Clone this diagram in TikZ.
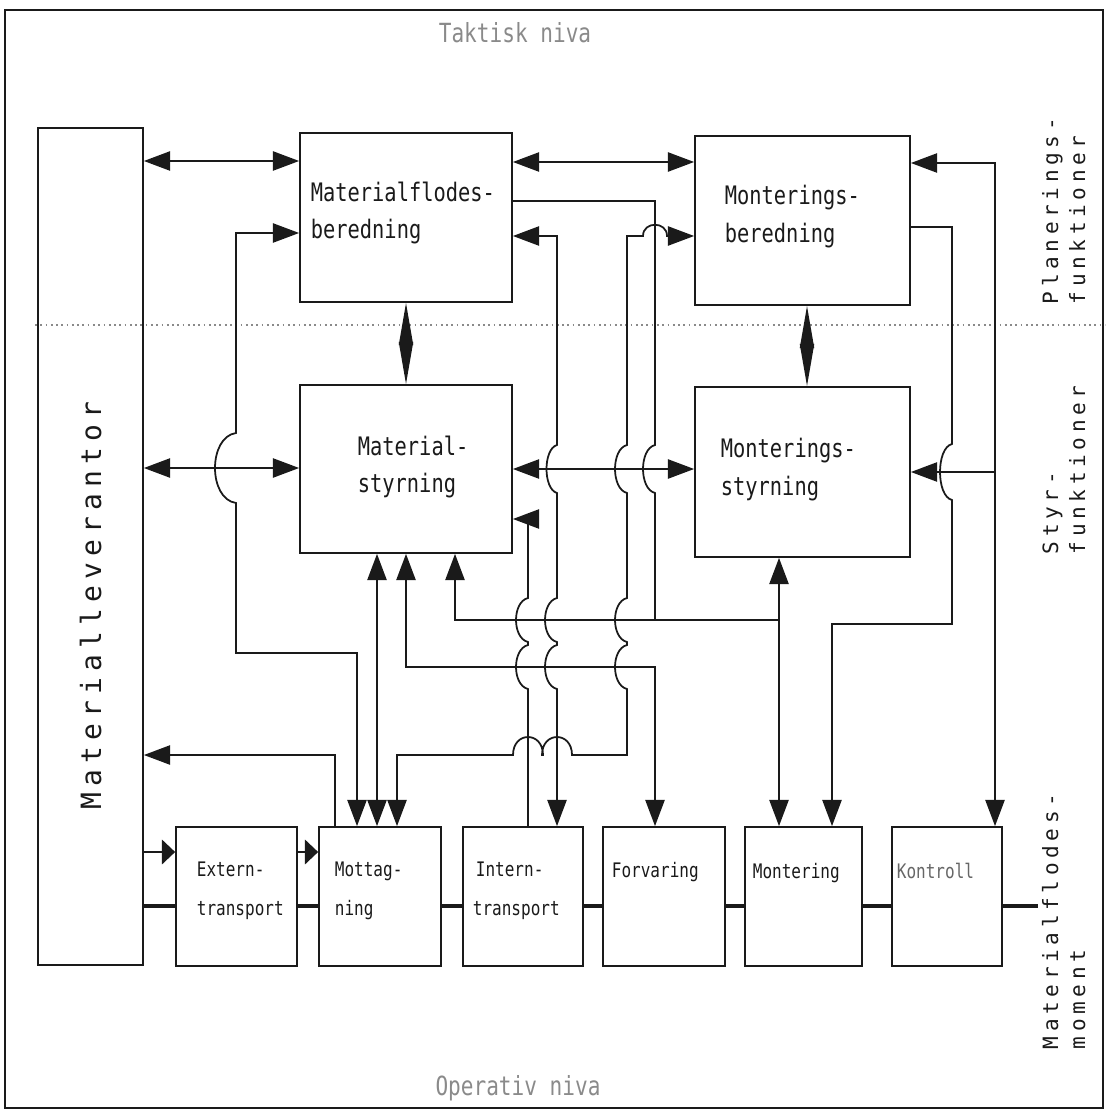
\documentclass[tikz,border=0pt]{standalone}
\usepackage{fontspec}
\usepackage{xcolor}
\usetikzlibrary{arrows.meta}
\newfontfamily\plotfont[FakeStretch=0.8]{DejaVu Sans Mono}
\newfontfamily\widefont[LetterSpace=22]{DejaVu Sans Mono}
\definecolor{ink}  {HTML}{1A1A1A}
\definecolor{faded}{HTML}{8A8A8A}
\newcommand{\pxu}{0.02cm}
% line hops: vertical line running down / up, horizontal line running left
\newcommand{\hopdn}[4]{-- (#1,#2-#3) .. controls (#1-#4,#2-#3+4) and (#1-#4,#2+#3-4) .. (#1,#2+#3)}
\newcommand{\hopup}[4]{-- (#1,#2+#3) .. controls (#1-#4,#2+#3-4) and (#1-#4,#2-#3+4) .. (#1,#2-#3)}
\newcommand{\hoplt}[4]{-- (#1+#3,#2) .. controls (#1+#3,#2-#4) and (#1-#3,#2-#4) .. (#1-#3,#2)}

\begin{document}
\begin{tikzpicture}[x=0.02cm,y=-0.02cm,line width=1pt,color=ink,
    >={Triangle[length=15pt,width=11pt]},
    box/.style={draw,rectangle,inner sep=0pt},
    lbl/.style={font=\plotfont\fontsize{14.5}{16}\selectfont,anchor=base west,inner sep=0pt},
    oplbl/.style={font=\plotfont\fontsize{11.4}{13}\selectfont,anchor=base west,inner sep=0pt},
    sidelbl/.style={font=\widefont\fontsize{12}{14}\selectfont,rotate=90,anchor=base west,inner sep=0pt},
    dia/.style={{Triangle[length=24pt,width=8pt]}-{Triangle[length=24pt,width=8pt]}},
    sarr/.style={-{Triangle[length=7.5pt,width=14pt]}},
    flow/.style={line width=2.8pt}]
  \useasboundingbox (0,0) rectangle (1105,1111);
  \draw (5,10) rectangle (1103,1108);
  \draw[faded,dotted,line width=1pt] (35,325) -- (1105,325);

  % boxes
  \node[box,minimum width=105*\pxu,minimum height=837*\pxu] (lev) at (90.5,546.5) {};
  \node[box,minimum width=212*\pxu,minimum height=169*\pxu] (mfb) at (406,217.5) {};
  \node[box,minimum width=215*\pxu,minimum height=169*\pxu] (mb) at (802.5,220.5) {};
  \node[box,minimum width=212*\pxu,minimum height=168*\pxu] (mas) at (406,469) {};
  \node[box,minimum width=215*\pxu,minimum height=170*\pxu] (ms) at (802.5,472) {};
  \foreach \nm/\xa/\xb in {ext/176/297,mot/319/441,int/463/583,forv/603/725,mont/745/862,kon/892/1002} {
    \node[box,minimum width={(\xb-\xa)*\pxu},minimum height=139*\pxu] (\nm) at ({(\xa+\xb)/2},896.5) {};
  }

  % texts
  \node[lbl] (mfbA) at (310,202) {Materialflodes-};
  \node[lbl] (mfbB) at (310,239) {beredning};
  \node[lbl] (mbA) at (724,205) {Monterings-};
  \node[lbl] (mbB) at (724,243) {beredning};
  \node[lbl] (masA) at (357,455) {Material-};
  \node[lbl] (masB) at (357,492) {styrning};
  \node[lbl] (msA) at (720,457) {Monterings-};
  \node[lbl] (msB) at (720,495) {styrning};
  \foreach \nm/\x/\y/\t in {extA/196/876/{Extern-},extB/196/915/transport,motA/334/876/{Mottag-},motB/334/915/ning,
      intA/475/876/{Intern-},intB/472/915/transport,forvA/611/877/Forvaring,montA/752/878/Montering} {
    \node[oplbl] (\nm) at (\x,\y) {\t};
  }
  \node[oplbl,black!60] (konA) at (896,878) {Kontroll};

  \node[font=\plotfont\fontsize{15}{17}\selectfont,faded] (takt) at (515,33) {Taktisk niva};
  \node[font=\plotfont\fontsize{15}{17}\selectfont,faded] (oper) at (518,1088) {Operativ niva};
  \node[font=\widefont\fontsize{15.9}{18}\selectfont,rotate=90,anchor=base west,inner sep=0pt] (levT) at (101,810) {Materialleverantor};
  \node[sidelbl] (plan1) at (1058,305) {Planerings-};
  \node[sidelbl] (plan2) at (1085,305) {funktioner};
  \node[sidelbl] (styr1) at (1058,555) {Styr-};
  \node[sidelbl] (styr2) at (1085,555) {funktioner};
  \node[sidelbl] (mfm1) at (1058,1050) {Materialflodes-};
  \node[sidelbl] (mfm2) at (1085,1050) {moment};

  % planning and control links
  \draw[<->] (lev.east |- 0,161) -- (mfb.west |- 0,161);
  \draw[<->] (mfb.east |- 0,162) -- (mb.west |- 0,162);
  \draw[dia] (mfb.south) -- (mas.north);
  \draw[dia] (mb.south -| 807,0) -- (ms.north -| 807,0);
  \draw[<->] (lev.east |- 0,468) -- (mas.west |- 0,468);
  \draw[<->] (mas.east |- 0,469) -- (ms.west |- 0,469);
  \draw[<->] (kon.north -| 995,0) -- (995,163) -- (mb.east |- 0,163);
  \draw[->] (995,472) -- (ms.east |- 0,472);
  \draw[->] (mb.east |- 0,227) -- (952,227) \hopdn{952}{472}{28}{16} -- (952,624) -- (832,624) -- (mont.north -| 832,0);
  \draw[<->] (mfb.west |- 0,233) -- (236,233) \hopdn{236}{468}{35}{28} -- (236,653) -- (357,653) -- (mot.north -| 357,0);
  \draw[<->] (mas.south -| 377,0) -- (mot.north -| 377,0);
  \draw[<->] (mb.west |- 0,236) \hoplt{655}{236}{12}{15} -- (627,236) \hopdn{627}{469}{24}{16}
    \hopdn{627}{620}{22}{16} \hopdn{627}{667}{22}{16} -- (627,755) \hoplt{557}{755}{15}{24}
    \hoplt{528}{755}{15}{24} -- (397,755) -- (mot.north -| 397,0);
  \draw[<->] (mfb.east |- 0,236) -- (557,236) \hopdn{557}{469}{24}{14} \hopdn{557}{620}{22}{16}
    \hopdn{557}{667}{22}{16} -- (int.north -| 557,0);
  \draw[->] (int.north -| 528,0) \hopup{528}{667}{22}{16} \hopup{528}{620}{22}{16} -- (528,519) -- (mas.east |- 0,519);
  \draw (mfb.east |- 0,201) -- (655,201) \hopdn{655}{469}{24}{16} -- (655,620);
  \draw[<-] (mas.south -| 455,0) -- (455,620) -- (779,620);
  \draw[<->] (mas.south -| 406,0) -- (406,667) -- (655,667) -- (forv.north -| 655,0);
  \draw[<->] (ms.south -| 779,0) -- (mont.north -| 779,0);
  \draw[->] (mot.north -| 335,0) -- (335,755) -- (lev.east |- 0,755);

  % material flow
  \draw[sarr] (lev.east |- 0,852) -- (ext.west |- 0,852);
  \draw[sarr] (ext.east |- 0,852) -- (mot.west |- 0,852);
  \foreach \a/\b in {lev/ext,ext/mot,mot/int,int/forv,forv/mont,mont/kon} {
    \draw[flow] (\a.east |- 0,906) -- (\b.west |- 0,906);
  }
  \draw[flow] (kon.east |- 0,906) -- (1038,906);
\end{tikzpicture}
\end{document}
